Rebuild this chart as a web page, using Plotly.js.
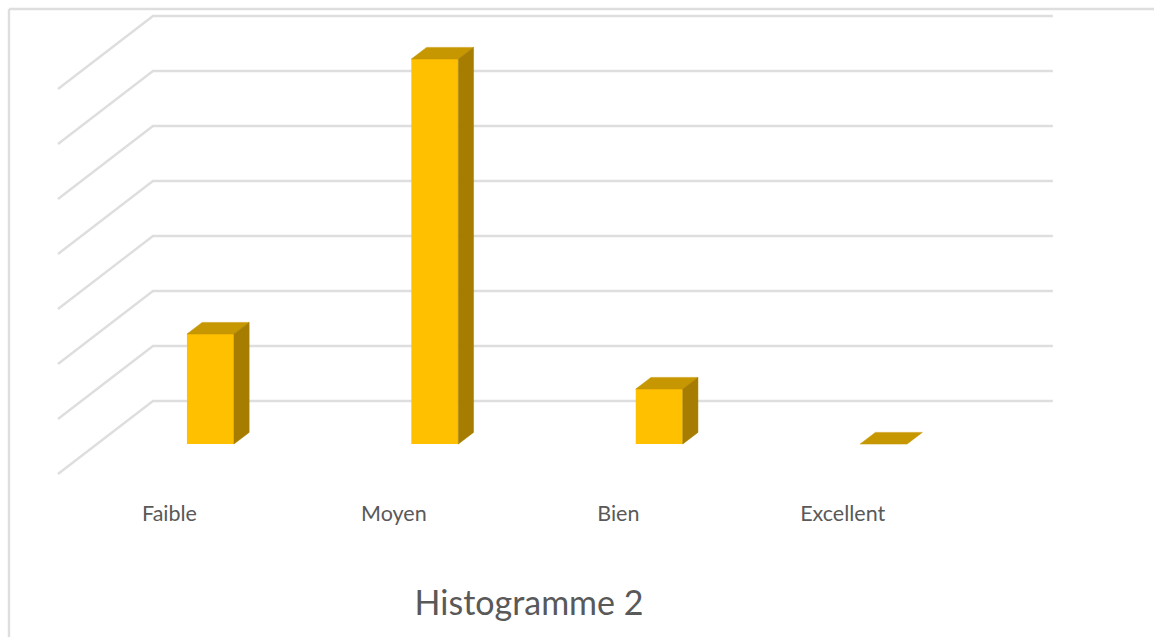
<!DOCTYPE html>
<html>
<head>
<meta charset="utf-8">
<script src="https://cdn.plot.ly/plotly-3.0.1.min.js"></script>
<style>html,body{margin:0;padding:0;background:#fff;overflow:hidden}#chart{width:1154px;height:637px}</style>
</head>
<body>
<div id="chart"></div>
<script>
// Data
const categories = ["Faible", "Moyen", "Bien", "Excellent"];
const values = [2, 7, 1, 0];
const gridValues = [0, 1, 2, 3, 4, 5, 6, 7];
const chartTitle = "Histogramme 2";

// Oblique projection of the 3D look, in axis units
const stepPx = 224.4, originPx = 169.5;
const depthX = 95 / stepPx, depthY = 73 / 55;
const barFront = 0.41, barBack = 0.57, barWidth = 47 / stepPx, barNudge = 2 / stepPx;
const project = (x, v, d) => [x + d * depthX, v + d * depthY];

const frontBase = project(0, 0, barFront)[1];
const centers = categories.map((c, i) => project(i + barNudge, 0, barFront)[0]);

const topX = [], topY = [], sideX = [], sideY = [];
values.forEach((v, i) => {
  const l = i + barNudge - barWidth / 2, r = i + barNudge + barWidth / 2;
  [[l, v, barFront], [r, v, barFront], [r, v, barBack], [l, v, barBack], [l, v, barFront]].forEach(p => {
    const q = project(p[0], p[1], p[2]); topX.push(q[0]); topY.push(q[1]);
  });
  topX.push(null); topY.push(null);
  if (v > 0) {
    [[r, 0, barFront], [r, v, barFront], [r, v, barBack], [r, 0, barBack], [r, 0, barFront]].forEach(p => {
      const q = project(p[0], p[1], p[2]); sideX.push(q[0]); sideY.push(q[1]);
    });
    sideX.push(null); sideY.push(null);
  }
});

const traces = [
  { type: "bar", x: centers, y: values, base: frontBase, width: barWidth,
    marker: { color: "#FFC000", line: { width: 0 } }, hoverinfo: "skip" },
  { type: "scatter", mode: "lines", x: topX, y: topY, fill: "toself", fillcolor: "#C69700",
    line: { width: 0.5, color: "#C69700" }, hoverinfo: "skip" },
  { type: "scatter", mode: "lines", x: sideX, y: sideY, fill: "toself", fillcolor: "#A67D00",
    line: { width: 0.5, color: "#A67D00" }, hoverinfo: "skip" }
];

const gridColor = "#DEDEDE";
const gridShapes = gridValues.map(v => {
  const a = project(-0.497, v, 0), b = project(-0.497, v, 1), c = project(3.513, v, 1);
  return { type: "path", xref: "x", yref: "y", layer: "below",
    path: `M ${a[0]} ${a[1]} L ${b[0]} ${b[1]} L ${c[0]} ${c[1]}`,
    line: { color: gridColor, width: 2.4 } };
});
const frameShapes = [
  { type: "line", xref: "paper", yref: "paper", x0: 9 / 1154, x1: 9 / 1154, y0: -137 / 500, y1: 1 - 9 / 500,
    line: { color: gridColor, width: 2.4 } },
  { type: "line", xref: "paper", yref: "paper", x0: 9 / 1154, x1: 1, y0: 1 - 9 / 500, y1: 1 - 9 / 500,
    line: { color: gridColor, width: 2.4 } }
];

const layout = {
  width: 1154, height: 637,
  margin: { l: 0, r: 0, t: 0, b: 137, pad: 0 },
  paper_bgcolor: "#fff", plot_bgcolor: "#fff",
  showlegend: false,
  font: { family: "Lato, sans-serif", color: "#595959" },
  title: { text: chartTitle, x: 529 / 1154, xanchor: "center", y: 1 - 603 / 637, yanchor: "middle",
    font: { family: "Lato, sans-serif", size: 34, color: "#595959" } },
  xaxis: { range: [-originPx / stepPx, (1154 - originPx) / stepPx], tickmode: "array", tickvals: categories.map((c, i) => i),
    ticktext: categories, showgrid: false, zeroline: false, showline: false, ticks: "",
    tickfont: { family: "Lato, sans-serif", size: 21.5, color: "#595959" }, ticklabelstandoff: -2, fixedrange: true },
  yaxis: { range: [-26 / 55, 474 / 55], visible: false, showgrid: false, zeroline: false, fixedrange: true },
  shapes: gridShapes.concat(frameShapes)
};

Plotly.newPlot("chart", traces, layout, { displayModeBar: false, staticPlot: true });
</script>
</body>
</html>
